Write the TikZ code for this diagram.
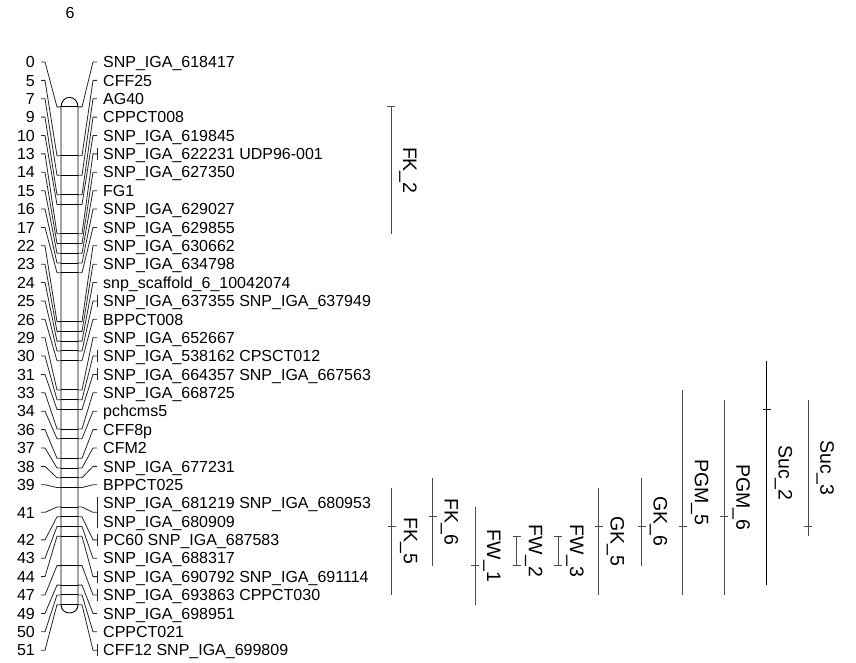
\documentclass[tikz,border=0pt]{standalone}
\usepackage{fontspec}
\setmainfont{Liberation Sans}
\begin{document}
\begin{tikzpicture}[x=1pt,y=-1pt,
  lab/.style={font=\fontsize{16}{16}\selectfont, anchor=base west, inner sep=0pt},
  num/.style={font=\fontsize{16}{16}\selectfont, anchor=base east, inner sep=0pt},
  conn/.style={line width=0.8pt, black!85},
  chrom/.style={line width=0.9pt, black},
  qtl/.style={line width=0.9pt, black!70},
  qlab/.style={font=\fontsize{19.5}{19.5}\selectfont, rotate=-90, anchor=south, inner sep=0pt}]
\useasboundingbox (0,0) rectangle (856,663);

\node[font=\fontsize{16}{16}\selectfont, inner sep=0pt] (title) at (70,13) {6};

% chromosome body
\draw[chrom, fill=white] (61,106.9) -- (61,604.8)
  .. controls (61,609.5) and (64.8,613) .. (69.5,613)
  .. controls (74.2,613) and (78,609.5) .. (78,604.8)
  -- (78,106.9)
  .. controls (78,101.8) and (74.2,97.3) .. (69.5,97.3)
  .. controls (64.8,97.3) and (61,101.8) .. (61,106.9) -- cycle;

% markers with one label row
\foreach \r/\c/\t/\m in {
0/0/SNP\_IGA\_618417/0,
1/5/CFF25/0,
2/7/AG40/0,
3/9/CPPCT008/0,
4/10/SNP\_IGA\_619845/0,
5/13/SNP\_IGA\_622231 UDP96-001/1,
6/14/SNP\_IGA\_627350/0,
7/15/FG1/0,
8/16/SNP\_IGA\_629027/0,
9/17/SNP\_IGA\_629855/0,
10/22/SNP\_IGA\_630662/0,
11/23/SNP\_IGA\_634798/0,
12/24/snp\_scaffold\_6\_10042074/0,
13/25/SNP\_IGA\_637355 SNP\_IGA\_637949/1,
14/26/BPPCT008/0,
15/29/SNP\_IGA\_652667/0,
16/30/SNP\_IGA\_538162 CPSCT012/1,
17/31/SNP\_IGA\_664357 SNP\_IGA\_667563/1,
18/33/SNP\_IGA\_668725/0,
19/34/pchcms5/0,
20/36/CFF8p/0,
21/37/CFM2/0,
22/38/SNP\_IGA\_677231/0,
23/39/BPPCT025/0,
26/42/PC60 SNP\_IGA\_687583/1,
27/43/SNP\_IGA\_688317/0,
28/44/SNP\_IGA\_690792 SNP\_IGA\_691114/1,
29/47/SNP\_IGA\_693863 CPPCT030/1,
30/49/SNP\_IGA\_698951/0,
31/50/CPPCT021/0,
32/51/CFF12 SNP\_IGA\_699809/1}{
  \pgfmathsetmacro\yr{62+18.38*\r}
  \pgfmathsetmacro\yc{106.9+9.76*\c}
  \node[lab] (lab\r) at (103,\yr+5.7) {\t};
  \node[num] (num\r) at (35,\yr+5.7) {\c};
  \coordinate (cr\r) at (78,\yc);
  \coordinate (cl\r) at (61,\yc);
  \coordinate (er\r) at (97,\yr);
  \coordinate (el\r) at (41,\yr);
  \draw[chrom] (cl\r) -- (cr\r);
  \draw[conn] (cr\r) -- ++(4,0) -- ([xshift=-4pt]er\r) -- (er\r);
  \draw[conn] (cl\r) -- ++(-4,0) -- ([xshift=4pt]el\r) -- (el\r);
  \ifnum\m=1 \draw[conn] ([yshift=6pt]er\r) -- ([yshift=-6pt]er\r); \fi
}

% marker 41 with two label rows
\pgfmathsetmacro\yra{62+18.38*24}
\pgfmathsetmacro\yrb{62+18.38*25}
\pgfmathsetmacro\yrm{62+18.38*24.5}
\pgfmathsetmacro\ycf{106.9+9.76*41}
\node[lab] (lab24) at (103,\yra+5.7) {SNP\_IGA\_681219 SNP\_IGA\_680953};
\node[lab] (lab25) at (103,\yrb+5.7) {SNP\_IGA\_680909};
\node[num] (num24) at (35,\yrm+5.7) {41};
\coordinate (cr24) at (78,\ycf);
\coordinate (cl24) at (61,\ycf);
\coordinate (er24) at (97,\yrm);
\coordinate (el24) at (41,\yrm);
\coordinate (bt24) at (97,\yra-6);
\coordinate (bb24) at (97,\yrb+6);
\draw[chrom] (cl24) -- (cr24);
\draw[conn] (cr24) -- ++(4,0) -- ([xshift=-4pt]er24) -- (er24);
\draw[conn] (cl24) -- ++(-4,0) -- ([xshift=4pt]el24) -- (el24);
\draw[conn] (bt24) -- (bb24);

% QTL bars
\foreach \i/\n/\x/\a/\b/\p/\col in {
1/FK\_2/391/0/13/0/black!70,
2/FK\_5/391.7/39/50/43/black!70,
3/FK\_6/432.5/38/47/42/black!70,
4/FW\_1/475/41/51/47/black!70,
5/FW\_2/516.7/44/47/44/black!70,
6/FW\_3/558/44/47/44/black!70,
7/GK\_5/598.5/39/50/43/black!70,
8/GK\_6/641.5/38/47/43/black!70,
9/PGM\_5/682.7/29/50/43/black!70,
10/PGM\_6/724.3/30/50/42/black!70,
11/Suc\_2/766.5/26/49/31/black,
12/Suc\_3/808.3/30/44/43/black!70}{
  \pgfmathsetmacro\ya{106.9+9.76*\a}
  \pgfmathsetmacro\yb{106.9+9.76*\b}
  \pgfmathsetmacro\yp{106.9+9.76*\p}
  \pgfmathsetmacro\ym{(\ya+\yb)/2}
  \coordinate (qt\i) at (\x,\ya);
  \coordinate (qb\i) at (\x,\yb);
  \coordinate (qp\i) at (\x,\yp);
  \draw[qtl, draw=\col] (qt\i) -- (qb\i);
  \draw[qtl, draw=\col] ([xshift=-4pt]qp\i) -- ([xshift=4pt]qp\i);
  \node[qlab] (ql\i) at (\x+8,\ym) {\n};
}
% extra end ticks of FW_2 and FW_3
\draw[qtl] ([xshift=-4pt]qb5) -- ([xshift=4pt]qb5);
\draw[qtl] ([xshift=-4pt]qb6) -- ([xshift=4pt]qb6);
\end{tikzpicture}
\end{document}
